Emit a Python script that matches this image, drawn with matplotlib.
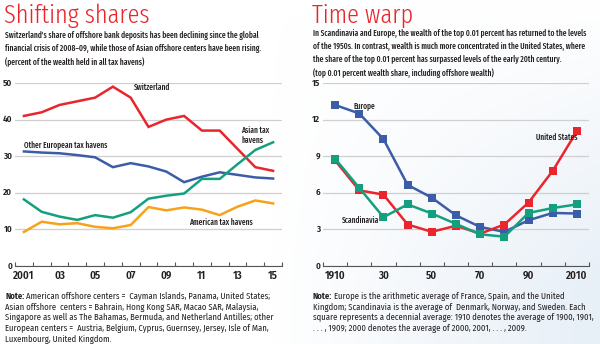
import numpy as np
import matplotlib
matplotlib.use('Agg')
import matplotlib.pyplot as plt
from matplotlib.colors import LinearSegmentedColormap

# ---- data: left panel (percent of wealth held in all tax havens)
years = np.arange(2001, 2016)
switzerland = [41, 42, 44, 45, 46, 49, 46, 38, 40, 41, 37, 37, 32, 27, 26]
other_europe = [31.3, 31.0, 30.8, 30.3, 29.7, 27.0, 28.1, 27.2, 25.8, 22.9, 24.4, 25.6, 24.9, 24.2, 23.9]
asian = [18.2, 14.8, 13.5, 12.6, 13.9, 13.2, 14.7, 18.4, 19.2, 19.8, 23.8, 23.8, 27.8, 31.7, 33.8]
american = [9.3, 12.1, 11.4, 11.7, 10.7, 10.3, 11.2, 16.1, 15.2, 16.0, 15.4, 13.9, 16.2, 17.9, 17.1]
left_xticklabels = ['2001', '03', '05', '07', '09', '11', '13', '15']

# ---- data: right panel (top 0.01 percent wealth share)
decades = np.arange(1910, 2011, 10)
europe = [13.2, 12.5, 10.4, 6.65, 5.6, 4.15, 3.2, 2.8, 3.75, 4.35, 4.3]
scandinavia = [8.8, 6.4, 4.0, 5.05, 4.3, 3.45, 2.6, 2.4, 4.35, 4.75, 5.05]
united_states = [8.65, 6.2, 5.85, 3.4, 2.8, 3.3, 2.65, 3.4, 5.2, 7.8, 11.05]
right_xticklabels = ['1910', '30', '50', '70', '90', '2010']

RED = '#e8262c'
BLUE = '#3d5ca8'
TEAL = '#14a07e'
ORANGE = '#f7a21b'
GRID = '#cfcfcf'
TXT = '#231f20'

cond = ['Fira Sans Condensed', 'Liberation Sans Narrow', 'DejaVu Sans']
xcond = ['Fira Sans Extra Condensed', 'Fira Sans Condensed', 'DejaVu Sans']

fig = plt.figure(figsize=(6, 3.44), dpi=100)

# faint blue gradient behind everything
bg = fig.add_axes([0, 0, 1, 1], zorder=-10)
gx, gy = np.meshgrid(np.linspace(0, 1, 200), np.linspace(0, 1, 120))
grad = np.clip((gx - 0.45) * 1.6, 0, 1) * np.clip(gy * 1.2, 0, 1)
cmap = LinearSegmentedColormap.from_list('bgc', ['#ffffff', '#e4edf6'])
bg.imshow(grad, cmap=cmap, aspect='auto', extent=[0, 1, 0, 1], origin='upper', vmin=0, vmax=1)
bg.axis('off')


def style_axes(ax):
    for s in ['top', 'right', 'left']:
        ax.spines[s].set_visible(False)
    ax.spines['bottom'].set_color('#555555')
    ax.spines['bottom'].set_linewidth(0.8)
    ax.set_facecolor('none')
    ax.yaxis.grid(True, color=GRID, lw=0.9)
    ax.set_axisbelow(True)
    ax.tick_params(axis='y', length=0, pad=2, labelsize=6.5, labelcolor=TXT)
    ax.tick_params(axis='x', which='major', length=0, pad=3, labelsize=7.8, labelcolor=TXT)
    ax.tick_params(axis='x', which='minor', direction='in', length=3, width=0.8, color='#555555')
    for lab in ax.get_yticklabels() + ax.get_xticklabels():
        lab.set_family(cond)
        lab.set_fontweight(600)


# ---- left panel
ax1 = fig.add_axes([15 / 600, 1 - 266 / 344, 267 / 600, 183 / 344])
ax1.plot(years, switzerland, color=RED, lw=1.8, clip_on=False, solid_joinstyle='miter')
ax1.plot(years, other_europe, color=BLUE, lw=1.8, clip_on=False, solid_joinstyle='miter')
ax1.plot(years, asian, color=TEAL, lw=1.8, clip_on=False, solid_joinstyle='miter')
ax1.plot(years, american, color=ORANGE, lw=1.8, clip_on=False, solid_joinstyle='miter')
ax1.set_xlim(2000.5, 2015.5)
ax1.set_ylim(0, 50)
ax1.set_yticks([0, 10, 20, 30, 40, 50])
ax1.set_xticks(years[::2])
ax1.set_xticklabels(left_xticklabels)
ax1.set_xticks(np.arange(2000.5, 2016, 1), minor=True)
style_axes(ax1)
for lab in ax1.get_yticklabels():
    lab.set_verticalalignment('center')

lab_kw = dict(fontsize=5.8, family=xcond, color=TXT, fontweight=500)
ax1.text(2007.2, 48.7, 'Switzerland', ha='left', va='center', **lab_kw)
ax1.text(2001.0, 32.8, 'Other European tax havens', ha='left', va='center', **lab_kw)
ax1.text(2013.2, 35.6, 'Asian tax\nhavens', ha='left', va='center', linespacing=1.1, **lab_kw)
ax1.text(2010.3, 12.0, 'American tax havens', ha='left', va='center', **lab_kw)

# ---- right panel
ax2 = fig.add_axes([323 / 600, 1 - 266 / 344, 266 / 600, 183 / 344])
mk = dict(marker='s', markersize=6, lw=1.8, clip_on=False, markeredgewidth=0)
ax2.plot(decades, europe, color=BLUE, **mk)
ax2.plot(decades, united_states, color=RED, **mk)
ax2.plot(decades, scandinavia, color=TEAL, **mk)
ax2.set_xlim(1905, 2015)
ax2.set_ylim(0, 15)
ax2.set_yticks([0, 3, 6, 9, 12, 15])
ax2.set_xticks(decades[::2])
ax2.set_xticklabels(right_xticklabels)
ax2.set_xticks(np.arange(1905, 2016, 10), minor=True)
style_axes(ax2)
for lab in ax2.get_yticklabels():
    lab.set_verticalalignment('center')

ax2.text(1917.5, 13.15, 'Europe', ha='left', va='center', **lab_kw)
ax2.text(1993.2, 10.55, 'United States', ha='left', va='center', **lab_kw)
ax2.text(1913.0, 3.75, 'Scandinavia', ha='left', va='center', **lab_kw)

# ---- titles, subtitles, notes
title_kw = dict(color=RED, fontsize=19, family=xcond, fontweight=300, ha='left', va='top')
fig.text(4 / 600, 1 - 3 / 344, 'Shifting shares', **title_kw)
fig.text(312 / 600, 1 - 3 / 344, 'Time warp', **title_kw)

sub_kw = dict(fontsize=5.85, family=xcond, color=TXT, fontweight=500,
              ha='left', va='top', linespacing=1.55)
fig.text(5 / 600, 1 - 31 / 344,
         "Switzerland's share of offshore bank deposits has been declining since the global\n"
         "financial crisis of 2008\u201309, while those of Asian offshore centers have been rising.\n"
         "(percent of the wealth held in all tax havens)", **sub_kw)
fig.text(313 / 600, 1 - 29 / 344,
         "In Scandinavia and Europe, the wealth of the top 0.01 percent has returned to the levels\n"
         "of the 1950s. In contrast, wealth is much more concentrated in the United States, where\n"
         "the share of the top 0.01 percent has surpassed levels of the early 20th century.\n"
         "(top 0.01 percent wealth share, including offshore wealth)", **sub_kw)

note_kw = dict(fontsize=6.2, family=cond, color=TXT, ha='left', va='top', linespacing=1.22)
left_note = ["American offshore centers =  Cayman Islands, Panama, United States;",
             "Asian offshore  centers = Bahrain, Hong Kong SAR, Macao SAR, Malaysia,",
             "Singapore as well as The Bahamas, Bermuda, and Netherland Antilles; other",
             "European centers =  Austria, Belgium, Cyprus, Guernsey, Jersey, Isle of Man,",
             "Luxembourg, United Kingdom."]
right_note = ["Europe is the arithmetic average of France, Spain, and the United",
              "Kingdom; Scandinavia is the average of  Denmark, Norway, and Sweden. Each",
              "square represents a decennial average: 1910 denotes the average of 1900, 1901,",
              ". . . , 1909; 2000 denotes the average of 2000, 2001, . . . , 2009."]
for x0, lines in [(5, left_note), (313, right_note)]:
    t = fig.text(x0 / 600, 1 - 292 / 344, 'Note:', fontweight='bold', **note_kw)
    fig.canvas.draw()
    w = t.get_window_extent().width
    fig.text((x0 + w + 2) / 600, 1 - 292 / 344, lines[0], **note_kw)
    fig.text(x0 / 600, 1 - 302.5 / 344, '\n'.join(lines[1:]), **note_kw)

fig.savefig('out.png', dpi=100)
